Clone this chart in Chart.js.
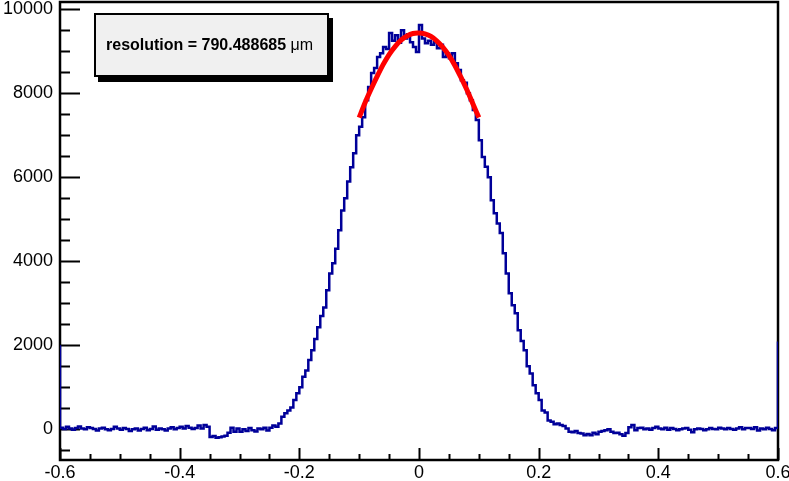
<!DOCTYPE html>
<html>
<head>
<meta charset="utf-8">
<script src="https://cdn.jsdelivr.net/npm/chart.js@4.4.1/dist/chart.umd.min.js"></script>
<style>
  body { margin: 0; background: #fff; }
  #wrap { position: relative; width: 789px; height: 481px; }
  #statBox {
    position: absolute; left: 94px; top: 13px; width: 235px; height: 64px;
    box-sizing: border-box;
    background: #f0f0f0; border: 2px solid #000; box-shadow: 4px 5px 0 #000;
    display: flex; align-items: center; padding-left: 10px;
    font-family: "Liberation Sans", Arial, sans-serif; font-size: 16px; color: #000;
  }
  #statBox b { font-weight: bold; white-space: pre; }
</style>
</head>
<body>
<div id="wrap">
  <canvas id="histChart" width="789" height="481"></canvas>
  <div id="statBox"><b>resolution = 790.488685 </b><span>μm</span></div>
</div>
<script>
// histogram definition: 240 bins from -0.6 to 0.6
const binLow = -0.6;
const binWidth = 0.005;
const binCounts = [
  40, 10, 60, 20, -10, 30, 70, 20, 0, 50,
  30, 10, -30, 20, 40, 0, -20, 10, 60, 20,
  -10, 30, 10, -40, 0, 20, -30, 10, 40, -20,
  10, 70, -10, 20, 0, -30, 20, 50, 0, 30,
  60, 20, 80, 40, 10, 30, 90, 20, 100, 60,
  -180, -160, -200, -190, -170, -150, -80, 40, -60, 20,
  -60, 0, -40, 30, -20, -50, 20, 0, 40, -30,
  40, 90, 60, 140, 300, 380, 450, 520, 700, 860,
  1000, 1250, 1400, 1650, 1880, 2150, 2430, 2700, 2900, 3310,
  3710, 3950, 4300, 4740, 5210, 5500, 5900, 6240, 6570, 7000,
  7200, 7430, 7830, 8150, 8480, 8600, 8860, 8950, 9100, 9050,
  9430, 9250, 9380, 9200, 9500, 9300, 9400, 9210, 9100, 8980,
  9620, 9300, 9190, 9250, 9150, 9210, 9070, 9150, 8860, 8950,
  8830, 8950, 8710, 8550, 8310, 8250, 8000, 7830, 7600, 7360,
  6880, 6480, 6250, 6000, 5450, 5140, 4900, 4670, 4190, 3710,
  3240, 2950, 2760, 2360, 2100, 1880, 1500, 1330, 1050, 860,
  700, 450, 400, 210, 180, 120, 140, 100, 80, 20,
  -60, -70, -40, -90, -100, -140, -110, -140, -80, -120,
  -60, -40, -20, 0, -60, -90, -80, -120, -150, -90,
  50, 100, -20, 30, 40, 0, 20, -10, 30, 60,
  20, 0, 40, -10, 30, 10, -20, 0, 20, 30,
  -10, -70, 0, 20, 10, -20, 0, 30, 10, 0,
  40, 20, 0, 30, 10, -10, 20, 50, 0, 30,
  30, 10, 50, -30, 20, 0, 40, 10, -20, 30
];
// spikes drawn at the two histogram edges
const lowEdgeCount = 2000;
const highEdgeCount = 2090;

// gaussian fit
const fitX = [-0.10, -0.09, -0.08, -0.07, -0.06, -0.05, -0.04, -0.03, -0.02, -0.01, 0,
              0.01, 0.02, 0.03, 0.04, 0.05, 0.06, 0.07, 0.08, 0.09, 0.10];
const fitY = [7420, 7780, 8100, 8400, 8680, 8920, 9110, 9260, 9360, 9420, 9430,
              9410, 9350, 9240, 9090, 8900, 8660, 8380, 8080, 7750, 7420];

// axis ticks
const xTicks = [-0.6, -0.4, -0.2, 0, 0.2, 0.4, 0.6];
const xTickLabels = ["-0.6", "-0.4", "-0.2", "0", "0.2", "0.4", "0.6"];
const yTicks = [0, 2000, 4000, 6000, 8000, 10000];
const yTickLabels = ["0", "2000", "4000", "6000", "8000", "10000"];
const xMinorStep = 0.05;
const yMinorStep = 500;
const xRange = [-0.6, 0.6];
const yRange = [-730, 10170];

// build step outline points (left bin edges, stepped)
const histPoints = [{ x: binLow, y: lowEdgeCount }];
binCounts.forEach((c, i) => histPoints.push({ x: binLow + i * binWidth, y: c }));
const binHigh = binLow + binCounts.length * binWidth;
histPoints.push({ x: binHigh, y: binCounts[binCounts.length - 1] });
histPoints.push({ x: binHigh, y: highEdgeCount });

const fitPoints = fitX.map((x, i) => ({ x: x, y: fitY[i] }));

// ROOT-like frame with inward ticks, drawn under the histogram
const frameTicks = {
  id: "frameTicks",
  beforeDatasetsDraw(chart) {
    const { ctx, chartArea: a, scales } = chart;
    const xs = scales.x, ys = scales.y;
    ctx.save();
    ctx.strokeStyle = "#000";
    ctx.lineWidth = 2;
    ctx.beginPath();
    // y ticks
    for (let v = Math.ceil(yRange[0] / yMinorStep) * yMinorStep; v <= yRange[1]; v += yMinorStep) {
      const py = Math.round(ys.getPixelForValue(v)) + 0.5;
      const len = yTicks.includes(v) ? 20 : 10;
      ctx.moveTo(a.left, py);
      ctx.lineTo(a.left + len, py);
    }
    // x ticks
    const nMinor = Math.round((xRange[1] - xRange[0]) / xMinorStep);
    for (let i = 0; i <= nMinor; i++) {
      const v = xRange[0] + i * xMinorStep;
      const px = Math.round(xs.getPixelForValue(v)) + 0.5;
      const major = xTicks.some(t => Math.abs(t - v) < 1e-6);
      const len = major ? 12 : 6;
      ctx.moveTo(px, a.bottom);
      ctx.lineTo(px, a.bottom - len);
    }
    ctx.stroke();
    ctx.lineWidth = 2.5;
    ctx.strokeRect(a.left, a.top, a.right - a.left, a.bottom - a.top);
    ctx.restore();
  }
};

const tickFont = { family: "'Liberation Sans', Arial, sans-serif", size: 18 };

// keep tick labels from pushing the plot frame inwards
const noLabelPadding = (s) => {
  s.paddingTop = 0; s.paddingBottom = 0; s.paddingLeft = 0; s.paddingRight = 0;
};

new Chart(document.getElementById("histChart").getContext("2d"), {
  type: "line",
  data: {
    datasets: [
      {
        label: "fit",
        data: fitPoints,
        borderColor: "#ff0000",
        borderWidth: 5,
        pointRadius: 0,
        tension: 0.3,
        order: 0
      },
      {
        label: "hist",
        data: histPoints,
        borderColor: "#000099",
        borderWidth: 2.5,
        pointRadius: 0,
        stepped: true,
        order: 1
      }
    ]
  },
  options: {
    responsive: false,
    animation: false,
    layout: { padding: { left: 0, right: 11, top: 2, bottom: 0 } },
    plugins: { legend: { display: false }, tooltip: { enabled: false } },
    scales: {
      x: {
        type: "linear",
        min: xRange[0],
        max: xRange[1],
        grid: { display: false, drawTicks: false },
        border: { display: false },
        afterBuildTicks: (s) => { s.ticks = xTicks.map(v => ({ value: v })); },
        afterFit: (s) => { s.height = 21; noLabelPadding(s); },
        ticks: {
          color: "#000",
          font: tickFont,
          padding: 2,
          maxRotation: 0,
          autoSkip: false,
          callback: (v) => xTickLabels[xTicks.findIndex(t => Math.abs(t - v) < 1e-6)]
        }
      },
      y: {
        type: "linear",
        min: yRange[0],
        max: yRange[1],
        grid: { display: false, drawTicks: false },
        border: { display: false },
        afterBuildTicks: (s) => { s.ticks = yTicks.map(v => ({ value: v })); },
        afterFit: (s) => { s.width = 60; noLabelPadding(s); },
        ticks: {
          color: "#000",
          font: tickFont,
          padding: 7,
          autoSkip: false,
          callback: (v) => yTickLabels[yTicks.indexOf(v)]
        }
      }
    }
  },
  plugins: [frameTicks]
});
</script>
</body>
</html>
